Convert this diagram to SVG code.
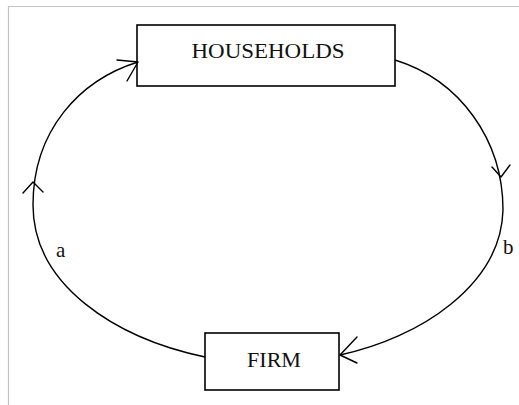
<svg xmlns="http://www.w3.org/2000/svg" width="519" height="405" viewBox="0 0 519 405">
<style>
.box{fill:#fff;stroke:#000;stroke-width:1.6}
.lbl{font-family:"Liberation Serif","Times New Roman",serif;font-size:22px;fill:#111;text-anchor:middle}
.small{font-family:"Liberation Serif","Times New Roman",serif;font-size:21px;fill:#111}
.arc{fill:none;stroke:#000;stroke-width:1.4}
.head{fill:none;stroke:#000;stroke-width:1.4;stroke-linecap:round;stroke-linejoin:round}
</style>
<rect width="519" height="405" fill="#fff"/>
<path d="M8.5,405 V6.5 H519" fill="none" stroke="#c4c4c4" stroke-width="1.2"/>
<g id="households">
<rect class="box" x="137" y="25" width="258" height="61"/>
<text class="lbl" x="268" y="58" textLength="153" lengthAdjust="spacingAndGlyphs">HOUSEHOLDS</text>
</g>
<g id="firm">
<rect class="box" x="205" y="333" width="134" height="57"/>
<text class="lbl" x="274" y="367" textLength="54" lengthAdjust="spacingAndGlyphs">FIRM</text>
</g>
<g id="connectors">
<g id="edge-a">
<path class="arc" d="M205,357 C115,338 33,285 33,205 C33,130 80,80 138,62"/>
<path class="head" d="M23,193 L33,182 L43,192"/>
<path class="head" d="M117,60 L138,62 L127,81"/>
<text class="small" x="56" y="257">a</text>
</g>
<g id="edge-b">
<path class="arc" d="M395,60 C460,80 503,140 503,210 C501,285 420,338 340,355"/>
<path class="head" d="M492,167 L501,177 L510,165"/>
<path class="head" d="M357,337 L340,355 L357,363"/>
<text class="small" x="503" y="254">b</text>
</g>
</g>
</svg>
